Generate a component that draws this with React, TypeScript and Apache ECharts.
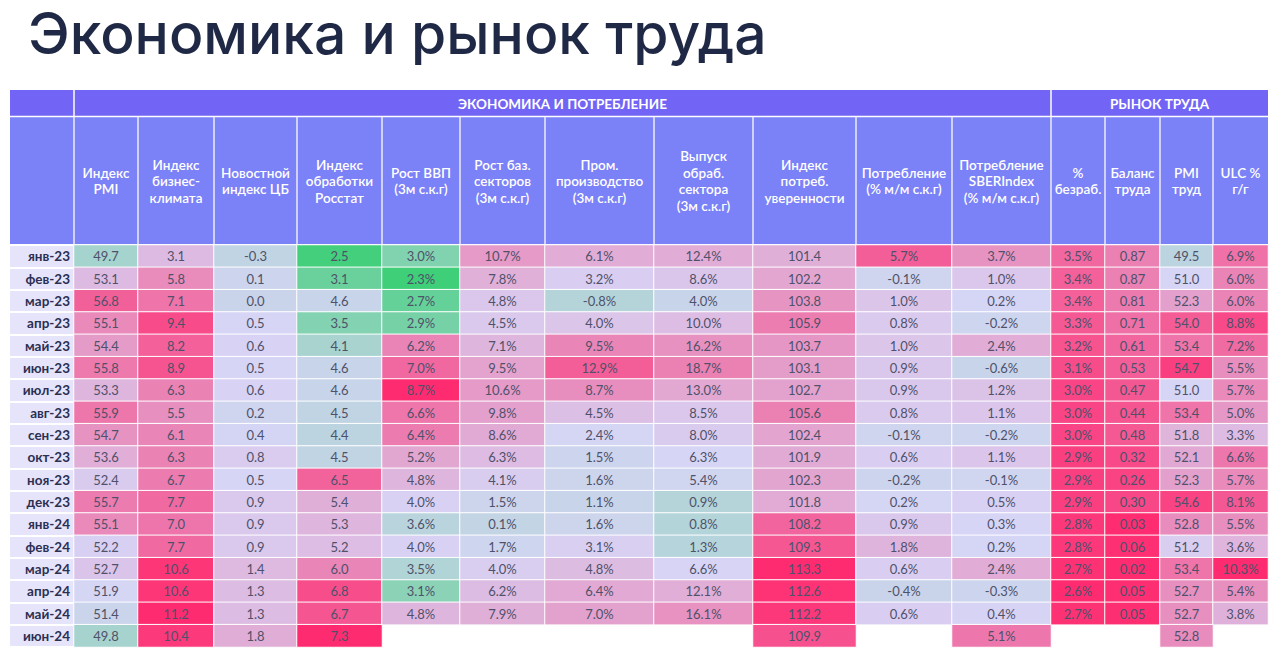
import React, { useEffect, useRef } from "react";
import * as echarts from "echarts";

// ---------- DATA ----------
const TITLE = "Экономика и рынок труда";
const GROUPS = ["ЭКОНОМИКА И ПОТРЕБЛЕНИЕ", "РЫНОК ТРУДА"];
const MONTHS = [
  "янв-23", "фев-23", "мар-23", "апр-23", "май-23", "июн-23", "июл-23", "авг-23", "сен-23",
  "окт-23", "ноя-23", "дек-23", "янв-24", "фев-24", "мар-24", "апр-24", "май-24", "июн-24",
];
const HEADERS = [
  "Индекс\nPMI",
  "Индекс\nбизнес-\nклимата",
  "Новостной\nиндекс ЦБ",
  "Индекс\nобработки\nРосстат",
  "Рост ВВП\n(3м с.к.г)",
  "Рост баз.\nсекторов\n(3м с.к.г)",
  "Пром.\nпроизводство\n(3м с.к.г)",
  "Выпуск\nобраб.\nсектора\n(3м с.к.г)",
  "Индекс\nпотреб.\nуверенности",
  "Потребление\n(% м/м с.к.г)",
  "Потребление\nSBERIndex\n(% м/м с.к.г)",
  "%\nбезраб.",
  "Баланс\nтруда",
  "PMI\nтруд",
  "ULC %\nг/г",
];
const DECIMALS = [1, 1, 1, 1, 1, 1, 1, 1, 1, 1, 1, 1, 2, 1, 1];
const PERCENT = [false, false, false, false, true, true, true, true, false, true, true, true, false, false, true];

const pmi = [49.7, 53.1, 56.8, 55.1, 54.4, 55.8, 53.3, 55.9, 54.7, 53.6, 52.4, 55.7, 55.1, 52.2, 52.7, 51.9, 51.4, 49.8];
const bizClimate = [3.1, 5.8, 7.1, 9.4, 8.2, 8.9, 6.3, 5.5, 6.1, 6.3, 6.7, 7.7, 7.0, 7.7, 10.6, 10.6, 11.2, 10.4];
const cbNews = [-0.3, 0.1, 0.0, 0.5, 0.6, 0.5, 0.6, 0.2, 0.4, 0.8, 0.5, 0.9, 0.9, 0.9, 1.4, 1.3, 1.3, 1.8];
const manufRosstat = [2.5, 3.1, 4.6, 3.5, 4.1, 4.6, 4.6, 4.5, 4.4, 4.5, 6.5, 5.4, 5.3, 5.2, 6.0, 6.8, 6.7, 7.3];
const gdpGrowth = [3.0, 2.3, 2.7, 2.9, 6.2, 7.0, 8.7, 6.6, 6.4, 5.2, 4.8, 4.0, 3.6, 4.0, 3.5, 3.1, 4.8, null];
const baseSectors = [10.7, 7.8, 4.8, 4.5, 7.1, 9.5, 10.6, 9.8, 8.6, 6.3, 4.1, 1.5, 0.1, 1.7, 4.0, 6.2, 7.9, null];
const industry = [6.1, 3.2, -0.8, 4.0, 9.5, 12.9, 8.7, 4.5, 2.4, 1.5, 1.6, 1.1, 1.6, 3.1, 4.8, 6.4, 7.0, null];
const manufOutput = [12.4, 8.6, 4.0, 10.0, 16.2, 18.7, 13.0, 8.5, 8.0, 6.3, 5.4, 0.9, 0.8, 1.3, 6.6, 12.1, 16.1, null];
const consConfidence = [101.4, 102.2, 103.8, 105.9, 103.7, 103.1, 102.7, 105.6, 102.4, 101.9, 102.3, 101.8, 108.2, 109.3, 113.3, 112.6, 112.2, 109.9];
const consumption = [5.7, -0.1, 1.0, 0.8, 1.0, 0.9, 0.9, 0.8, -0.1, 0.6, -0.2, 0.2, 0.9, 1.8, 0.6, -0.4, 0.6, null];
const sberIndex = [3.7, 1.0, 0.2, -0.2, 2.4, -0.6, 1.2, 1.1, -0.2, 1.1, -0.1, 0.5, 0.3, 0.2, 2.4, -0.3, 0.4, 5.1];
const unemployment = [3.5, 3.4, 3.4, 3.3, 3.2, 3.1, 3.0, 3.0, 3.0, 2.9, 2.9, 2.9, 2.8, 2.8, 2.7, 2.6, 2.7, null];
const laborBalance = [0.87, 0.87, 0.81, 0.71, 0.61, 0.53, 0.47, 0.44, 0.48, 0.32, 0.26, 0.30, 0.03, 0.06, 0.02, 0.05, 0.05, null];
const pmiLabor = [49.5, 51.0, 52.3, 54.0, 53.4, 54.7, 51.0, 53.4, 51.8, 52.1, 52.3, 54.6, 52.8, 51.2, 53.4, 52.7, 52.7, 52.8];
const ulc = [6.9, 6.0, 6.0, 8.8, 7.2, 5.5, 5.7, 5.0, 3.3, 6.6, 5.7, 8.1, 5.5, 3.6, 10.3, 5.4, 3.8, null];

const COLUMNS = [
  pmi, bizClimate, cbNews, manufRosstat, gdpGrowth, baseSectors, industry, manufOutput,
  consConfidence, consumption, sberIndex, unemployment, laborBalance, pmiLabor, ulc,
];

// ---------- STYLE ----------
const G = "#3ecf78";
const GM = "#8ad2b7";
const LAV = "#d7d5f6";
const PK1 = "#e49cc9";
const PK2 = "#f2649d";
const HOT = "#ff2b70";
const P2 = [G, LAV, HOT];
const P4 = [G, LAV, PK1, PK2, HOT];
const Q3 = [G, GM, LAV, HOT];
const REV = [HOT, LAV, G];
const SCALES = [
  { c: P2, min: 45, max: 59 },
  { c: P2, min: -8, max: 11.2 },
  { c: P2, min: -5, max: 6 },
  { c: P2, min: 2.4, max: 7.3 },
  { c: P4, min: 2.3, max: 8.7 },
  { c: P2, min: -19, max: 25 },
  { c: P2, min: -12.1, max: 17.3 },
  { c: P2, min: -17.9, max: 30.9 },
  { c: P2, min: 82.7, max: 113.3 },
  { c: P2, min: -7.4, max: 8.0 },
  { c: P2, min: -8.4, max: 9.0 },
  { c: REV, min: 2.6, max: 7.74 },
  { c: REV, min: 0.02, max: 3.42 },
  { c: Q3, min: 42.6, max: 55.2 },
  { c: P2, min: -6.2, max: 10.3 },
];

const XB = [10, 74, 138, 214, 297, 382, 460, 545, 654, 753, 856, 952, 1051, 1105, 1160, 1213, 1268];
const GROUP_TOP = 90;
const HEAD_TOP = 117;
const DATA_TOP = 245;
const DATA_H = 402;
const GROUP_SPLIT = 12; // index in XB where second group starts

const FONT = "Lato, 'Noto Sans', sans-serif";

export default function App() {
  const ref = useRef<HTMLDivElement>(null);

  useEffect(() => {
    if (!ref.current) return;
    const chart = echarts.init(ref.current, undefined, { renderer: "svg" });

    const grids: any[] = [
      { left: XB[0], top: DATA_TOP, width: XB[1] - XB[0], height: DATA_H },
    ];
    const xAxes: any[] = [
      { gridIndex: 0, type: "category", data: [""], show: false },
    ];
    const yAxes: any[] = [
      {
        gridIndex: 0,
        type: "category",
        data: MONTHS,
        inverse: true,
        position: "right",
        axisLine: { show: false },
        axisTick: { show: false },
        axisLabel: {
          inside: true,
          margin: 4,
          color: "#2b2f52",
          fontWeight: "bold",
          fontSize: 13.5,
          fontFamily: FONT,
        },
        splitArea: { show: true, areaStyle: { color: ["#e6e4fa"] } },
        splitLine: { show: true, lineStyle: { color: "#ffffff", width: 2 } },
      },
    ];
    const series: any[] = [];
    const visualMaps: any[] = [];

    COLUMNS.forEach((col, i) => {
      const gi = i + 1;
      grids.push({ left: XB[gi], top: DATA_TOP, width: XB[gi + 1] - XB[gi], height: DATA_H });
      xAxes.push({
        gridIndex: gi,
        type: "category",
        data: [HEADERS[i]],
        position: "top",
        axisLine: { show: false },
        axisTick: { show: false },
        axisLabel: {
          interval: 0,
          color: "#ffffff",
          fontSize: 13.5,
          lineHeight: 16.5,
          fontWeight: 600,
          fontFamily: FONT,
          verticalAlign: "middle",
          margin: 64,
        },
      });
      yAxes.push({ gridIndex: gi, type: "category", data: MONTHS, inverse: true, show: false });
      const data: any[] = [];
      col.forEach((v, r) => {
        if (v !== null && v !== undefined) data.push([0, r, v]);
      });
      series.push({
        type: "heatmap",
        xAxisIndex: gi,
        yAxisIndex: gi,
        data,
        itemStyle: { borderColor: "#ffffff", borderWidth: 1 },
        label: {
          show: true,
          color: "#4f516a",
          fontSize: 13,
          fontFamily: FONT,
          formatter: (p: any) => p.value[2].toFixed(DECIMALS[i]) + (PERCENT[i] ? "%" : ""),
        },
        emphasis: { disabled: true },
      });
      visualMaps.push({
        type: "continuous",
        show: false,
        seriesIndex: i,
        dimension: 2,
        min: SCALES[i].min,
        max: SCALES[i].max,
        inRange: { color: SCALES[i].c },
        outOfRange: { color: SCALES[i].c },
      });
    });

    const graphic: any[] = [
      {
        type: "rect",
        z: -5,
        shape: { x: XB[0], y: GROUP_TOP, width: XB[XB.length - 1] - XB[0], height: HEAD_TOP - GROUP_TOP },
        style: { fill: "#7265f5" },
      },
      {
        type: "rect",
        z: -5,
        shape: { x: XB[0], y: HEAD_TOP, width: XB[XB.length - 1] - XB[0], height: DATA_TOP - HEAD_TOP - 1 },
        style: { fill: "#7b81f7" },
      },
      {
        type: "line",
        z: -4,
        shape: { x1: XB[0], y1: HEAD_TOP - 0.5, x2: XB[XB.length - 1], y2: HEAD_TOP - 0.5 },
        style: { stroke: "#ffffff", lineWidth: 1.5 },
      },
      {
        type: "text",
        z: -3,
        style: {
          x: (XB[1] + XB[GROUP_SPLIT]) / 2,
          y: (GROUP_TOP + HEAD_TOP) / 2,
          text: GROUPS[0],
          fill: "#ffffff",
          font: `bold 13.5px ${FONT}`,
          align: "center",
          verticalAlign: "middle",
        },
      },
      {
        type: "text",
        z: -3,
        style: {
          x: (XB[GROUP_SPLIT] + XB[XB.length - 1]) / 2,
          y: (GROUP_TOP + HEAD_TOP) / 2,
          text: GROUPS[1],
          fill: "#ffffff",
          font: `bold 13.5px ${FONT}`,
          align: "center",
          verticalAlign: "middle",
        },
      },
    ];
    [1, GROUP_SPLIT].forEach((k) => {
      graphic.push({
        type: "line",
        z: -4,
        shape: { x1: XB[k], y1: GROUP_TOP, x2: XB[k], y2: HEAD_TOP },
        style: { stroke: "#ffffff", lineWidth: 1.5 },
      });
    });
    for (let k = 1; k < XB.length - 1; k++) {
      graphic.push({
        type: "line",
        z: -4,
        shape: { x1: XB[k], y1: HEAD_TOP, x2: XB[k], y2: DATA_TOP - 1 },
        style: { stroke: "rgba(255,255,255,0.85)", lineWidth: 1.5 },
      });
    }

    chart.setOption({
      animation: false,
      backgroundColor: "#ffffff",
      title: {
        text: TITLE,
        left: 23,
        top: 0,
        textStyle: {
          fontSize: 57,
          fontWeight: 500,
          color: "#1f2946",
          fontFamily: "Inter, 'Noto Sans', sans-serif",
        },
      },
      grid: grids,
      xAxis: xAxes,
      yAxis: yAxes,
      visualMap: visualMaps,
      series,
      graphic,
    });

    return () => chart.dispose();
  }, []);

  return (
    <div
      ref={ref}
      style={{ position: "fixed", left: 0, top: 0, width: 1280, height: 658, background: "#fff" }}
    />
  );
}
